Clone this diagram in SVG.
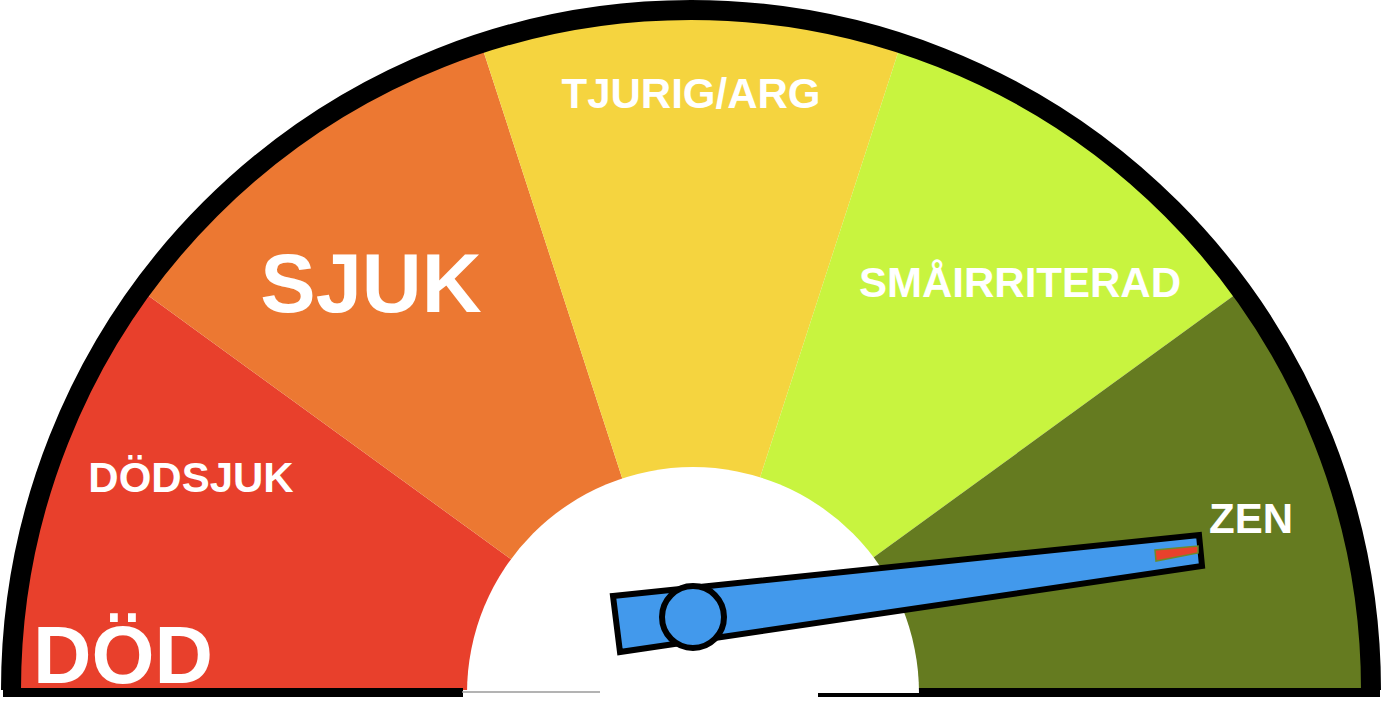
<svg xmlns="http://www.w3.org/2000/svg" width="1383" height="701" viewBox="0 0 1383 701">
  <style>
    .lbl { font-family: "Liberation Sans", Arial, sans-serif; font-weight: bold; fill: #ffffff; text-anchor: middle; }
    .s42 { font-size: 42px; }
    .out { stroke: #000000; stroke-width: 6; stroke-linejoin: miter; }
  </style>
  <rect x="0" y="0" width="1383" height="701" fill="#ffffff"/>
  <g id="sectors">
    <path id="sector-dod" d="M691 690 L11 690 A680 680 0 0 1 140.9 290.3 Z" fill="#E8402C"/>
    <path id="sector-sjuk" d="M691 690 L140.9 290.3 A680 680 0 0 1 480.9 43.3 Z" fill="#EC7832"/>
    <path id="sector-tjurig" d="M691 690 L480.9 43.3 A680 680 0 0 1 901.1 43.3 Z" fill="#F5D43F"/>
    <path id="sector-smairriterad" d="M691 690 L901.1 43.3 A680 680 0 0 1 1241.1 290.3 Z" fill="#C8F43F"/>
    <path id="sector-zen" d="M691 690 L1241.1 290.3 A680 680 0 0 1 1371 690 Z" fill="#657B20"/>
  </g>
  <g id="border">
    <path d="M11 690 A679 679 0 0 1 1371 690" fill="none" stroke="#000000" stroke-width="20"/>
    <rect x="3" y="688" width="460" height="9" fill="#000000"/>
    <rect x="818" y="688" width="562" height="9" fill="#000000"/>
  </g>
  <g id="hub-area">
    <path d="M467 693 A226 226 0 0 1 919 693 Z" fill="#ffffff"/>
    <line x1="462" y1="692" x2="600" y2="692" stroke="#9a9a9a" stroke-width="1.5"/>
  </g>
  <g id="labels">
    <text class="lbl" x="123" y="683" font-size="81">DÖD</text>
    <text class="lbl s42" x="191" y="492">DÖDSJUK</text>
    <text class="lbl" x="371" y="312" font-size="83">SJUK</text>
    <text class="lbl s42" x="691" y="108">TJURIG/ARG</text>
    <text class="lbl s42" x="1020" y="297">SMÅIRRITERAD</text>
    <text class="lbl s42" x="1251" y="533">ZEN</text>
  </g>
  <g id="needle">
    <polygon class="out" points="613,596 1199,535 1202,566 620,652" fill="#4299EC"/>
    <polygon points="1155,550 1198,546 1198,553 1156,561" fill="#E8412C" stroke="#6F8A2A" stroke-width="1.5"/>
    <circle class="out" cx="693" cy="617" r="31" fill="#4299EC"/>
  </g>
</svg>
